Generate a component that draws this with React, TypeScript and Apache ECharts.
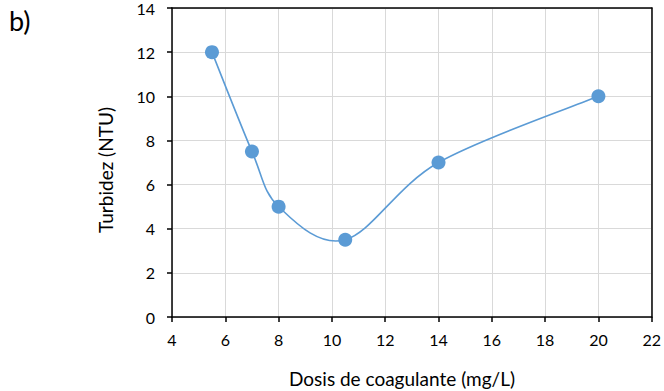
import React, { useEffect, useRef } from "react";
import * as echarts from "echarts";

const dosis = [5.5, 7, 8, 10.5, 14, 20];
const turbidez = [12, 7.5, 5, 3.5, 7, 10];
const xTitle = "Dosis de coagulante (mg/L)";
const yTitle = "Turbidez (NTU)";
const panelLabel = "b)";

export default function App() {
  const ref = useRef<HTMLDivElement>(null);
  useEffect(() => {
    const chart = echarts.init(ref.current!, null, { renderer: "svg" });
    const font = "Lato, 'Open Sans', sans-serif";
    const blue = "#5b9bd5";
    const n = dosis.length;
    const pts = dosis.map((x, i) => [x, turbidez[i]]);
    const frameAxis = {
      axisLine: { show: true, onZero: false, lineStyle: { color: "#000", width: 1.5 } },
      axisTick: { show: false },
      axisLabel: { show: false },
      splitLine: { show: false },
    };
    chart.setOption({
      animation: false,
      backgroundColor: "#ffffff",
      textStyle: { fontFamily: font },
      graphic: [
        {
          type: "text",
          x: 9,
          y: 7,
          style: { text: panelLabel, fontSize: 27, fill: "#000", fontFamily: font },
        },
        {
          type: "text",
          x: 402,
          y: 378,
          style: {
            text: xTitle,
            fontSize: 19,
            fill: "#000",
            fontFamily: font,
            align: "center",
            verticalAlign: "middle",
          },
        },
        {
          type: "text",
          x: 105,
          y: 170,
          rotation: Math.PI / 2,
          style: {
            text: yTitle,
            fontSize: 19,
            fill: "#000",
            fontFamily: font,
            align: "center",
            verticalAlign: "middle",
          },
        },
      ],
      grid: { left: 172, right: 12, top: 7, bottom: 74, containLabel: false },
      xAxis: [
        {
          type: "value",
          min: 4,
          max: 22,
          interval: 2,
          axisLine: { show: true, onZero: false, lineStyle: { color: "#000", width: 1.5 } },
          axisTick: { show: true, length: 5, lineStyle: { color: "#000", width: 1.5 } },
          axisLabel: { fontSize: 16, color: "#000", margin: 14, fontFamily: font },
          splitLine: { show: true, lineStyle: { color: "#d9d9d9", width: 1 } },
        },
        { type: "value", min: 4, max: 22, position: "top", ...frameAxis },
      ],
      yAxis: [
        {
          type: "value",
          min: 0,
          max: 14,
          interval: 2,
          axisLine: { show: true, onZero: false, lineStyle: { color: "#000", width: 1.5 } },
          axisTick: { show: true, length: 5, lineStyle: { color: "#000", width: 1.5 } },
          axisLabel: { fontSize: 16, color: "#000", margin: 17, fontFamily: font },
          splitLine: { show: true, lineStyle: { color: "#d9d9d9", width: 1 } },
        },
        { type: "value", min: 0, max: 14, position: "right", ...frameAxis },
      ],
      series: [
        {
          type: "custom",
          data: pts,
          renderItem: (params: any, api: any) => {
            const i = params.dataIndex;
            if (i >= n - 1) return null;
            const P = (j: number) => {
              const k = Math.max(0, Math.min(n - 1, j));
              return api.coord([dosis[k], turbidez[k]]);
            };
            const p0 = P(i - 1);
            const p1 = P(i);
            const p2 = P(i + 1);
            const p3 = P(i + 2);
            const t = 1 / 6;
            return {
              type: "bezierCurve",
              shape: {
                x1: p1[0],
                y1: p1[1],
                x2: p2[0],
                y2: p2[1],
                cpx1: p1[0] + (p2[0] - p0[0]) * t,
                cpy1: p1[1] + (p2[1] - p0[1]) * t,
                cpx2: p2[0] - (p3[0] - p1[0]) * t,
                cpy2: p2[1] - (p3[1] - p1[1]) * t,
              },
              style: { stroke: blue, lineWidth: 1.6, fill: "none" },
            };
          },
          z: 2,
        },
        {
          type: "scatter",
          data: pts,
          symbol: "circle",
          symbolSize: 14,
          itemStyle: { color: blue, opacity: 1 },
          z: 3,
        },
      ],
    });
    return () => chart.dispose();
  }, []);
  return (
    <div
      ref={ref}
      style={{ position: "fixed", left: 0, top: 0, width: 664, height: 391 }}
    />
  );
}
